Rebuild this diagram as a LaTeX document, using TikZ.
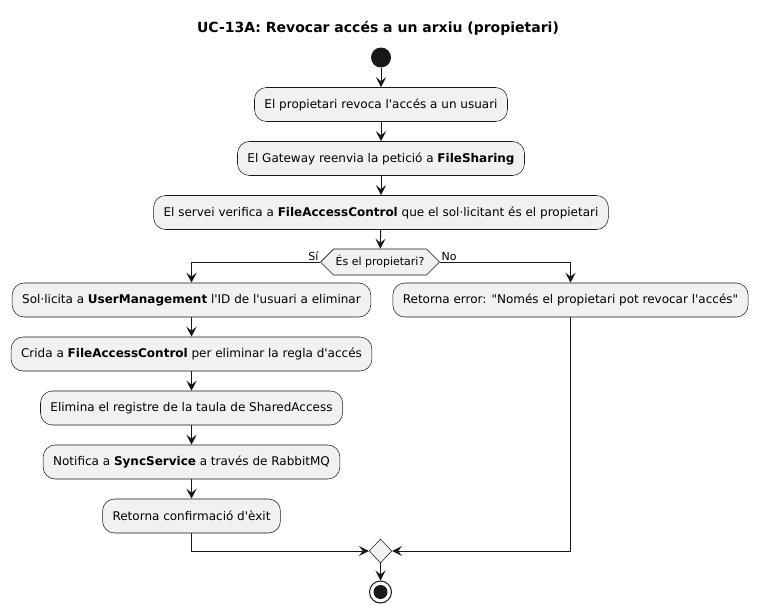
\documentclass[tikz,border=0pt]{standalone}
\usepackage{fontspec}
\setmainfont{DejaVu Sans}[Ligatures=TeXOff]
\usepackage{xcolor}
\usetikzlibrary{shapes.geometric, shapes.symbols, arrows.meta}

\definecolor{actfill}{HTML}{F1F1F1}
\definecolor{actline}{HTML}{181818}

\begin{document}
\begin{tikzpicture}[x=0.75pt,y=-0.75pt,>={Stealth[length=7.5pt,width=7.5pt,inset=3pt]},
      node distance=40.5pt, line width=0.75pt, draw=actline,
      act node/.style={rectangle,rounded corners=9pt,draw=actline,line width=0.4pt,fill=actfill,
        minimum height=25.5pt,inner xsep=7.5pt,font=\fontsize{9}{11}\selectfont},
      cond node/.style={signal,signal to=west and east,draw=actline,line width=0.4pt,fill=actfill,
        minimum height=19.5pt,inner xsep=1.5pt,font=\fontsize{8.25}{10}\selectfont},
      merge node/.style={diamond,draw=actline,line width=0.4pt,fill=actfill,inner sep=0pt,
        minimum width=17pt,minimum height=18pt},
      lbl node/.style={font=\fontsize{8.25}{10}\selectfont,inner sep=1pt}]
    \useasboundingbox (0,0) rectangle (758,615);

    \node[font=\fontsize{10.5}{12}\selectfont\bfseries] (title) at (378,28) {UC-13A: Revocar accés a un arxiu (propietari)};

    % main column
    \node[circle,fill=actline,minimum size=15pt,inner sep=0pt] (start) at (381,57.5) {};
    \node[act node] (b1) at (381,104.5) {El propietari revoca l'accés a un usuari};
    \node[act node] (b2) [below of=b1] {El Gateway reenvia la petició a \textbf{FileSharing}};
    \node[act node] (b3) [below of=b2] {El servei verifica a \textbf{FileAccessControl} que el sol·licitant és el propietari};
    \node[cond node] (cond) at (380,262) {És el propietari?};

    % left branch
    \node[act node] (l1) at (191.5,300) {Sol·licita a \textbf{UserManagement} l'ID de l'usuari a eliminar};
    \node[act node] (l2) [below of=l1] {Crida a \textbf{FileAccessControl} per eliminar la regla d'accés};
    \node[act node] (l3) [below of=l2] {Elimina el registre de la taula de SharedAccess};
    \node[act node] (l4) [below of=l3] {Notifica a \textbf{SyncService} a través de RabbitMQ};
    \node[act node] (l5) [below of=l4] {Retorna confirmació d'èxit};

    % right branch
    \node[act node] (r1) at (570.5,300) {Retorna error: "Només el propietari pot revocar l'accés"};

    \node[merge node] (merge) at (380.5,551) {};
    \node[circle,draw=actline,line width=0.75pt,fill=white,minimum size=16.5pt,inner sep=0pt] (end) at (380.5,592) {};
    \node[circle,fill=actline,minimum size=10.5pt,inner sep=0pt] (endin) at (end) {};

    \path[->,draw=actline]
        (start) edge (b1)
        (b1) edge (b2)
        (b2) edge (b3)
        (b3) edge (cond)
        (l1) edge (l2)
        (l2) edge (l3)
        (l3) edge (l4)
        (l4) edge (l5)
        (merge) edge (end)
    ;
    \draw[->] (cond.west) -- node[lbl node,pos=0,above left] {Sí} (cond.west -| l1) -- (l1);
    \draw[->] (cond.east) -- node[lbl node,pos=0,above right] {No} (cond.east -| r1) -- (r1);
    \draw[->] (l5) |- (merge);
    \draw[->] (r1) |- (merge);
\end{tikzpicture}
\end{document}
